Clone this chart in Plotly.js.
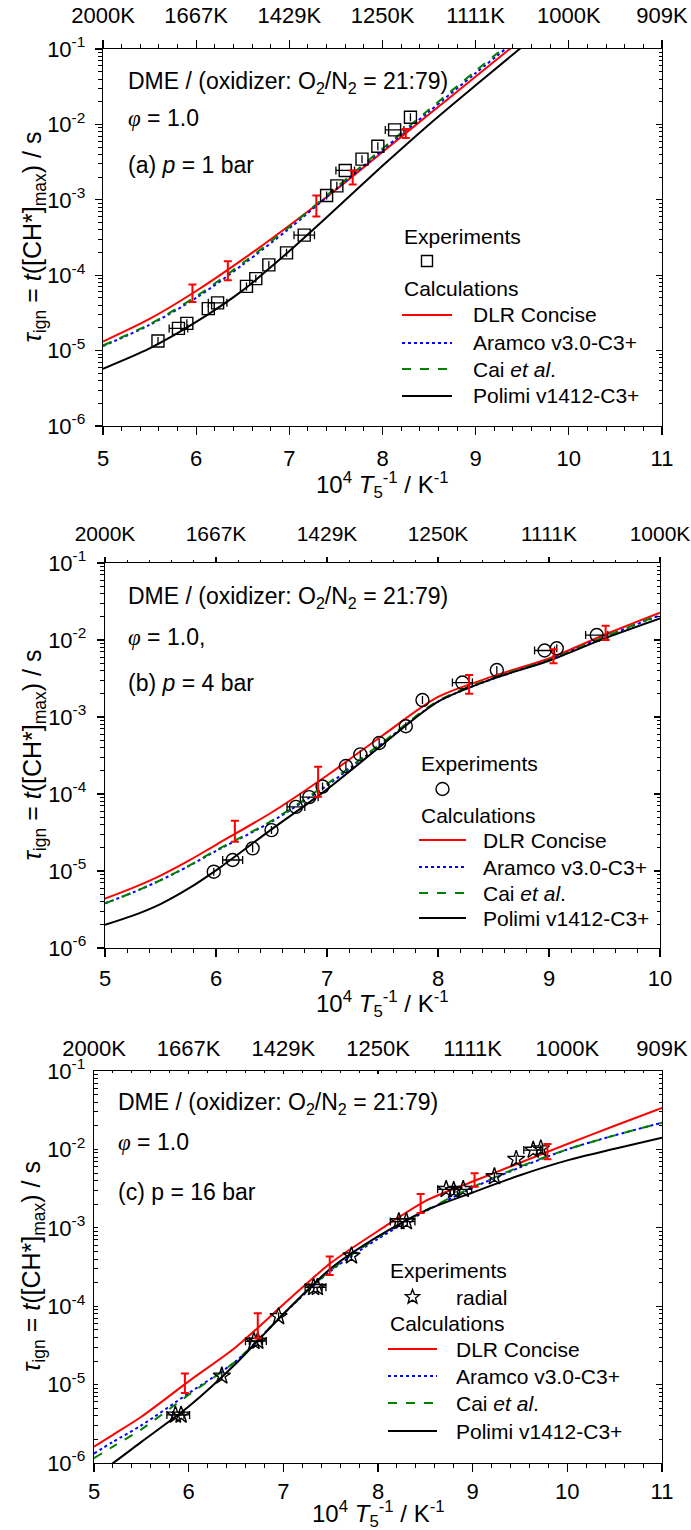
<!DOCTYPE html>
<html>
<head>
<meta charset="utf-8">
<script src="https://cdn.plot.ly/plotly-3.0.1.min.js"></script>
<style>
  html, body { margin: 0; padding: 0; background: #ffffff; }
  #chart { width: 691px; height: 1530px; }
</style>
</head>
<body>
<div id="chart"></div>
<script>
// ---------------- DATA ----------------
// tick labels
const invTempTicks = [5, 6, 7, 8, 9, 10, 11];
const tempLabels = ['2000K', '1667K', '1429K', '1250K', '1111K', '1000K', '909K'];
const tauTicks = [1e-6, 1e-5, 1e-4, 1e-3, 1e-2, 1e-1];
const tauTickText = ['10<sup>-6</sup>', '10<sup>-5</sup>', '10<sup>-4</sup>', '10<sup>-3</sup>', '10<sup>-2</sup>', '10<sup>-1</sup>'];
const modelNames = ['DLR Concise', 'Aramco v3.0-C3+', 'Cai <i>et al</i>.', 'Polimi v1412-C3+'];

// Panel (a) p = 1 bar
const aExpX = [5.59, 5.81, 5.90, 6.13, 6.23, 6.54, 6.64, 6.78, 6.97, 7.16, 7.40, 7.51, 7.60, 7.78, 7.95, 8.13, 8.30];
const aExpY = [1.34e-5, 1.97e-5, 2.3e-5, 3.6e-5, 4.3e-5, 7.1e-5, 9.0e-5, 1.37e-4, 1.98e-4, 3.4e-4, 1.14e-3, 1.53e-3, 2.45e-3, 3.46e-3, 5.14e-3, 8.45e-3, 1.245e-2];
const aExpXErr = [0, 0.1, 0, 0, 0.1, 0, 0, 0, 0, 0.11, 0, 0, 0.1, 0, 0, 0.1, 0];
const aErrX = [5.96, 6.34, 7.29, 7.68, 8.25];
const aErrY = [5.7e-5, 1.16e-4, 8.4e-4, 2.0e-3, 7.6e-3];
const aErrHi = [7.5e-5, 1.53e-4, 1.14e-3, 2.45e-3, 8.7e-3];
const aErrLo = [4.4e-5, 8.6e-5, 6.0e-4, 1.6e-3, 6.6e-3];
const aCalcX = [5, 5.5, 6, 6.5, 7, 7.5, 8, 8.5, 9, 9.5];
const aDLR = [1.32e-5, 2.63e-5, 6.17e-5, 1.62e-4, 4.57e-4, 1.36e-3, 4.31e-3, 1.36e-2, 4.31e-2, 0.136];
const aAramco = [1.15e-5, 2.19e-5, 5.0e-5, 1.38e-4, 4.17e-4, 1.38e-3, 4.57e-3, 1.48e-2, 4.79e-2, 0.151];
const aCai = [1.17e-5, 2.24e-5, 5.25e-5, 1.45e-4, 4.37e-4, 1.45e-3, 4.79e-3, 1.58e-2, 5.13e-2, 0.162];
const aPolimi = [5.75e-6, 1.07e-5, 2.4e-5, 6.3e-5, 2.09e-4, 7.6e-4, 2.82e-3, 1.0e-2, 3.31e-2, 0.107];

// Panel (b) p = 4 bar
const bExpX = [5.98, 6.15, 6.33, 6.50, 6.72, 6.84, 6.96, 7.17, 7.30, 7.47, 7.71, 7.86, 8.22, 8.53, 8.96, 9.07, 9.43];
const bExpY = [9.8e-6, 1.39e-5, 1.97e-5, 3.4e-5, 6.8e-5, 9.1e-5, 1.25e-4, 2.31e-4, 3.27e-4, 4.6e-4, 7.6e-4, 1.66e-3, 2.8e-3, 4.07e-3, 7.3e-3, 7.8e-3, 1.16e-2];
const bExpXErr = [0, 0.09, 0, 0, 0.08, 0.08, 0, 0, 0, 0, 0, 0, 0.09, 0, 0.09, 0, 0.1];
const bErrX = [6.17, 6.92, 8.28, 9.04, 9.51];
const bErrY = [3.24e-5, 1.45e-4, 2.6e-3, 6.07e-3, 1.22e-2];
const bErrHi = [4.5e-5, 2.26e-4, 3.5e-3, 7.6e-3, 1.53e-2];
const bErrLo = [2.4e-5, 9.2e-5, 2.0e-3, 4.98e-3, 1.0e-2];
const bCalcX = [5, 5.25, 5.5, 5.75, 6, 6.5, 7, 7.5, 8, 8.5, 9, 9.5, 10];
const bDLR = [4.37e-6, 6.03e-6, 8.71e-6, 1.35e-5, 2.19e-5, 5.75e-5, 1.74e-4, 5.75e-4, 1.82e-3, 3.39e-3, 5.75e-3, 1.17e-2, 2.26e-2];
const bAramco = [3.8e-6, 5.25e-6, 7.59e-6, 1.15e-5, 1.82e-5, 4.37e-5, 1.29e-4, 4.57e-4, 1.58e-3, 3.16e-3, 5.5e-3, 1.1e-2, 2.09e-2];
const bCai = [3.8e-6, 5.25e-6, 7.59e-6, 1.16e-5, 1.86e-5, 4.47e-5, 1.35e-4, 4.68e-4, 1.62e-3, 3.24e-3, 5.5e-3, 1.1e-2, 2.14e-2];
const bPolimi = [2.0e-6, 2.63e-6, 3.72e-6, 5.89e-6, 1.02e-5, 3.47e-5, 1.15e-4, 4.37e-4, 1.58e-3, 3.16e-3, 5.37e-3, 1.05e-2, 1.91e-2];

// Panel (c) p = 16 bar
const cExpX = [5.86, 5.92, 6.35, 6.69, 6.73, 6.95, 7.32, 7.36, 7.72, 8.22, 8.30, 8.72, 8.80, 8.90, 9.23, 9.46, 9.64, 9.72];
const cExpY = [4.1e-6, 4.1e-6, 1.29e-5, 3.56e-5, 3.6e-5, 7.4e-5, 1.74e-4, 1.74e-4, 4.4e-4, 1.2e-3, 1.2e-3, 3.1e-3, 3.0e-3, 3.1e-3, 4.5e-3, 7.5e-3, 9.8e-3, 1.02e-2];
const cExpXErr = [0.09, 0.09, 0, 0.09, 0.09, 0, 0.09, 0.09, 0, 0.09, 0.09, 0.09, 0, 0.09, 0, 0, 0.1, 0];
const cErrX = [5.96, 6.73, 7.49, 8.45, 9.02, 9.79];
const cErrY = [1.05e-5, 5.6e-5, 3.35e-4, 2.04e-3, 4.07e-3, 9.3e-3];
const cErrHi = [1.39e-5, 8.1e-5, 4.3e-4, 2.7e-3, 4.96e-3, 1.17e-2];
const cErrLo = [7.8e-6, 3.9e-5, 2.5e-4, 1.55e-3, 3.34e-3, 7.5e-3];
const cCalcX = [5, 5.2, 5.5, 6, 6.5, 7, 7.5, 8, 8.5, 9, 9.5, 10, 10.5, 11];
const cDLR = [1.62e-6, 2.29e-6, 3.89e-6, 1.1e-5, 3.02e-5, 1.05e-4, 3.55e-4, 9.1e-4, 2.19e-3, 3.89e-3, 6.76e-3, 1.17e-2, 2.0e-2, 3.39e-2];
const cAramco = [1.32e-6, 1.86e-6, 3.02e-6, 7.76e-6, 2.0e-5, 7.94e-5, 2.82e-4, 7.24e-4, 1.62e-3, 3.24e-3, 5.89e-3, 1.0e-2, 1.51e-2, 2.19e-2];
const cCai = [1.15e-6, 1.62e-6, 2.69e-6, 7.41e-6, 2.0e-5, 7.94e-5, 2.88e-4, 7.59e-4, 1.66e-3, 3.31e-3, 6.03e-3, 1.0e-2, 1.51e-2, 2.19e-2];
const cPolimi = [7.1e-7, 1.0e-6, 1.86e-6, 5.25e-6, 1.86e-5, 7.94e-5, 3.02e-4, 7.76e-4, 1.66e-3, 2.82e-3, 4.68e-3, 7.24e-3, 1.02e-2, 1.41e-2];

// ---------------- BUILD ----------------
const W = 691, H = 1530;
const FONT = 'Liberation Sans, Arial, sans-serif';
const px = v => v / W;
const py = v => 1 - v / H;
const PHI = '<span style="font-family:Liberation Serif"><i>φ</i></span>';

const lineStyles = [
  {color: '#ff0000', width: 2, dash: 'solid'},
  {color: '#0000ff', width: 2, dash: 'dot'},
  {color: '#008000', width: 2, dash: 'dash'},
  {color: '#000000', width: 2, dash: 'solid'}
];

const panels = [
  {exp: [aExpX, aExpY, aExpXErr], err: [aErrX, aErrY, aErrHi, aErrLo], calcX: aCalcX, calc: [aDLR, aAramco, aCai, aPolimi],
   symbol: 'square', expName: '', xmax: 11, box: [103, 662, 49, 426], topFont: 22,
   ticksTop: 'outside', ticksLeft: 'outside', tlTop: 8, tlLeft: 7, sTop: 8, sBottom: 4, sLeft: 5,
   leg: {x0: 402, x1: 452, xt: 471, rows: [236, 261, 288, 315, 343, 369, 396]},
   note: [126, 82, 118, 165],
   texts: [PHI + ' = 1.0', '(a) <i>p</i> = 1 bar'], xtitleY: 485},
  {exp: [bExpX, bExpY, bExpXErr], err: [bErrX, bErrY, bErrHi, bErrLo], calcX: bCalcX, calc: [bDLR, bAramco, bCai, bPolimi],
   symbol: 'circle', expName: '', xmax: 10, box: [105, 660, 563, 948], topFont: 21,
   ticksTop: 'outside', ticksLeft: 'outside', tlTop: 5, tlLeft: 7, sTop: 7, sBottom: 2, sLeft: 6,
   leg: {x0: 419, x1: 466, xt: 481, rows: [763, 789, 815, 840, 867, 893, 918]},
   note: [126, 598, 637, 683],
   texts: [PHI + ' = 1.0,', '(b) <i>p</i> = 4 bar'], xtitleY: 1004},
  {exp: [cExpX, cExpY, cExpXErr], err: [cErrX, cErrY, cErrHi, cErrLo], calcX: cCalcX, calc: [cDLR, cAramco, cCai, cPolimi],
   symbol: 'star', expName: 'radial', xmax: 11, box: [94, 662, 1071, 1463], topFont: 22,
   ticksTop: 'inside', ticksLeft: 'inside', tlTop: 3, tlLeft: 4, sTop: 5, sBottom: 0, sLeft: 3,
   leg: {x0: 388, x1: 437, xt: 454, rows: [1270, 1297, 1323, 1349, 1376, 1403, 1431]},
   note: [116, 1103, 1142, 1192],
   texts: [PHI + ' = 1.0', '(c) p = 16 bar'], xtitleY: 1514}
];

const traces = [];
const layout = {
  width: W, height: H,
  margin: {l: 0, r: 0, t: 0, b: 0},
  paper_bgcolor: '#ffffff', plot_bgcolor: '#ffffff',
  font: {family: FONT, size: 22, color: '#000000'},
  showlegend: false,
  annotations: [], shapes: []
};

function logMinor() {
  const v = [];
  for (let e = -7; e <= -1; e++) for (let m = 2; m <= 9; m++) v.push(m * Math.pow(10, e));
  return v;
}

function ann(x, y, text, extra) {
  layout.annotations.push(Object.assign({
    xref: 'paper', yref: 'paper', x: px(x), y: py(y), text: text, showarrow: false,
    xanchor: 'left', yanchor: 'middle', font: {family: FONT, size: 23, color: '#000'}
  }, extra || {}));
}

function legendSymbol(kind, cx, cy) {
  const base = {xref: 'paper', yref: 'paper', line: {color: '#000', width: 1.4}, fillcolor: 'rgba(0,0,0,0)'};
  if (kind === 'square' || kind === 'circle') {
    const r = kind === 'square' ? 5.5 : 6.5;
    layout.shapes.push(Object.assign({type: kind === 'square' ? 'rect' : 'circle',
      x0: px(cx - r), x1: px(cx + r), y0: py(cy + r), y1: py(cy - r)}, base));
  } else {
    let d = '';
    for (let k = 0; k < 10; k++) {
      const rr = k % 2 === 0 ? 7.5 : 3.2;
      const ang = -Math.PI / 2 + k * Math.PI / 5;
      d += (k === 0 ? 'M' : 'L') + px(cx + rr * Math.cos(ang)).toFixed(5) + ',' + py(cy + rr * Math.sin(ang)).toFixed(5);
    }
    layout.shapes.push(Object.assign({type: 'path', path: d + 'Z'}, base));
  }
}

panels.forEach((p, i) => {
  const xb = i === 0 ? 'x' : 'x' + (2 * i + 1);
  const yb = i === 0 ? 'y' : 'y' + (2 * i + 1);
  const xt = 'x' + (2 * i + 2);
  const yr = 'y' + (2 * i + 2);
  const xbKey = 'xaxis' + (i === 0 ? '' : (2 * i + 1));
  const ybKey = 'yaxis' + (i === 0 ? '' : (2 * i + 1));
  const [L, R, T, B] = p.box;
  const xt_vals = invTempTicks.filter(v => v <= p.xmax);
  const common = {showline: true, linecolor: '#000', linewidth: 1.3, showgrid: false, zeroline: false,
                  tickcolor: '#000', tickwidth: 1.2, tickfont: {family: FONT, size: 22, color: '#000'}};

  layout[xbKey] = Object.assign({}, common, {
    domain: [px(L), px(R)], anchor: yb, range: [5, p.xmax],
    tickmode: 'array', tickvals: xt_vals, ticktext: xt_vals.map(String),
    ticks: 'outside', ticklen: 8, ticklabelstandoff: p.sBottom,
    minor: {dtick: 0.2, tick0: 5, ticks: 'outside', ticklen: 4, tickwidth: 1, tickcolor: '#000'}
  });
  layout['xaxis' + (2 * i + 2)] = Object.assign({}, common, {
    overlaying: xb, anchor: yb, side: 'top', range: [5, p.xmax],
    tickmode: 'array', tickvals: xt_vals, ticktext: tempLabels.slice(0, xt_vals.length),
    tickfont: {family: FONT, size: p.topFont, color: '#000'}, ticklabeloverflow: 'allow',
    ticks: p.ticksTop, ticklen: p.tlTop, ticklabelstandoff: p.sTop,
    minor: {dtick: 0.2, tick0: 5, ticks: p.ticksTop, ticklen: Math.max(2, p.tlTop - 4), tickwidth: 1, tickcolor: '#000'}
  });
  layout[ybKey] = Object.assign({}, common, {
    domain: [py(B), py(T)], anchor: xb, type: 'log', range: [-6, -1],
    tickmode: 'array', tickvals: tauTicks, ticktext: tauTickText,
    ticks: p.ticksLeft, ticklen: p.tlLeft, ticklabelstandoff: p.sLeft,
    minor: {tickmode: 'array', tickvals: logMinor(), ticks: p.ticksLeft, ticklen: 4, tickwidth: 1, tickcolor: '#000'}
  });
  layout['yaxis' + (2 * i + 2)] = Object.assign({}, common, {
    overlaying: yb, anchor: xt, side: 'right', type: 'log', range: [-6, -1],
    tickmode: 'array', tickvals: tauTicks, showticklabels: false,
    ticks: 'inside', ticklen: 6,
    minor: {tickmode: 'array', tickvals: logMinor(), ticks: 'inside', ticklen: 3, tickwidth: 1, tickcolor: '#000'}
  });

  // invisible helper so the top / right mirror axes get drawn
  traces.push({type: 'scatter', mode: 'markers', x: [5, p.xmax], y: [tauTicks[0], tauTicks[5]],
               xaxis: xt, yaxis: yr, marker: {color: 'rgba(0,0,0,0)', size: 1}, hoverinfo: 'skip'});

  // calculation lines
  p.calc.forEach((ys, k) => {
    traces.push({
      type: 'scatter', mode: 'lines', x: p.calcX, y: ys, xaxis: xb, yaxis: yb,
      name: modelNames[k], line: Object.assign({shape: 'spline', smoothing: 0.8}, lineStyles[k]),
      hoverinfo: 'skip'
    });
  });
  // experiments
  traces.push({
    type: 'scatter', mode: 'markers', x: p.exp[0], y: p.exp[1], xaxis: xb, yaxis: yb,
    name: p.expName || 'Experiments',
    marker: {symbol: p.symbol + '-open', size: i === 0 ? 12 : 13, color: '#000', line: {color: '#000', width: 1.4}},
    error_x: {type: 'data', array: p.exp[2], visible: true, color: '#000', thickness: 1.3, width: 4},
    hoverinfo: 'skip'
  });
  // red uncertainty bars
  traces.push({
    type: 'scatter', mode: 'markers', x: p.err[0], y: p.err[1], xaxis: xb, yaxis: yb,
    marker: {size: 2, color: 'rgba(0,0,0,0)'},
    error_y: {type: 'data', symmetric: false,
              array: p.err[2].map((h, j) => h - p.err[1][j]),
              arrayminus: p.err[1].map((c, j) => c - p.err[3][j]),
              visible: true, color: '#ff0000', thickness: 2, width: 4},
    hoverinfo: 'skip'
  });

  // legend (drawn as layout decorations)
  const lg = p.leg, rows = lg.rows;
  const lfont = {family: FONT, size: 21, color: '#000'};
  ann(lg.x0, rows[0], 'Experiments', {font: lfont});
  legendSymbol(p.symbol, (lg.x0 + lg.x1) / 2, rows[1]);
  if (p.expName) ann(lg.xt, rows[1], p.expName, {font: lfont});
  ann(lg.x0, rows[2], 'Calculations', {font: lfont});
  modelNames.forEach((nm, k) => {
    const s = lineStyles[k];
    layout.shapes.push({type: 'line', xref: 'paper', yref: 'paper',
      x0: px(lg.x0), x1: px(lg.x1), y0: py(rows[3 + k]), y1: py(rows[3 + k]),
      line: {color: s.color, width: s.width, dash: s.dash}});
    ann(lg.xt, rows[3 + k], nm, {font: lfont});
  });

  // text notes
  ann(p.note[0], p.note[1], 'DME / (oxidizer: O<sub>2</sub>/N<sub>2</sub> = 21:79)');
  ann(p.note[0], p.note[2], p.texts[0]);
  ann(p.note[0], p.note[3], p.texts[1]);
  // axis titles
  ann((L + R) / 2, p.xtitleY, '10<sup>4</sup> <i>T</i><sub>5</sub><sup>-1</sup> / K<sup>-1</sup>',
      {xanchor: 'center', font: {family: FONT, size: 24, color: '#000'}});
  ann(33, (T + B) / 2, '<i>τ</i><sub>ign</sub> = <i>t</i>([CH*]<sub>max</sub>) / s',
      {xanchor: 'center', textangle: -90, font: {family: FONT, size: 25, color: '#000'}});
});

Plotly.newPlot('chart', traces, layout, {staticPlot: true, displayModeBar: false});
</script>
</body>
</html>
